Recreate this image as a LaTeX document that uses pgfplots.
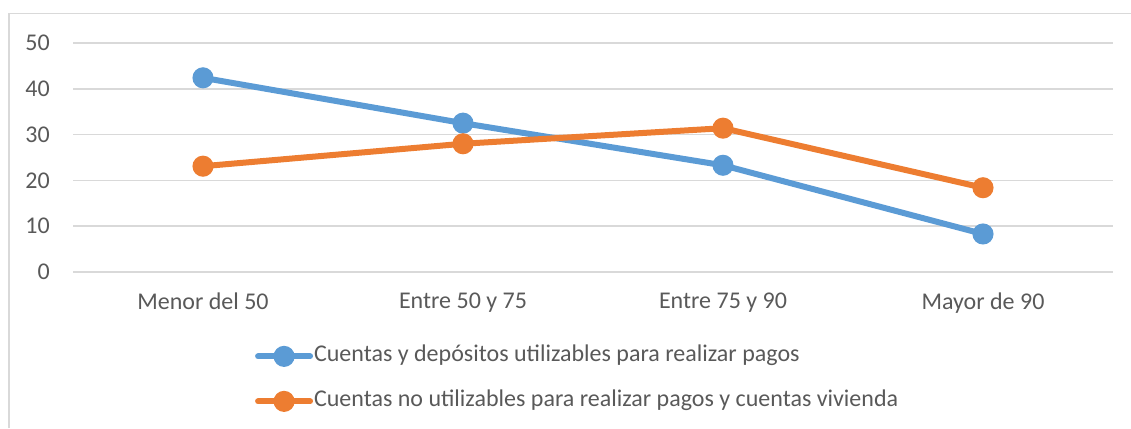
\documentclass[border=0pt]{standalone}
\usepackage{pgfplots}
\pgfplotsset{compat=1.18}
\usepackage{fontspec}
\setmainfont{Carlito}
\definecolor{cblue}{HTML}{5B9BD5}
\definecolor{corange}{HTML}{ED7D31}
\definecolor{cgrid}{HTML}{D9D9D9}
\definecolor{ctext}{HTML}{595959}
\begin{document}
\fontsize{24}{28}\selectfont
\begin{tikzpicture}[x=1pt,y=1pt]
\useasboundingbox (0,0) rectangle (1131,428);
\draw[cgrid, line width=1.5pt] (9,0) -- (9,414.3) -- (1131,414.3);
\begin{axis}[
  at={(73pt,156pt)}, anchor=south west,
  scale only axis, width=1040pt, height=229pt,
  xmin=-0.5, xmax=3.5, ymin=0, ymax=50,
  xtick={0,1,2,3},
  xticklabels={Menor del 50, Entre 50 y 75, Entre 75 y 90, Mayor de 90},
  ytick={0,10,20,30,40,50},
  ymajorgrids, grid style={cgrid, line width=1.5pt},
  axis line style={draw=none},
  major tick length=0pt,
  tick label style={font=\fontsize{24}{28}\selectfont, text=ctext},
  /pgf/number format/assume math mode=true,
  yticklabel style={anchor=east, inner sep=0pt, xshift=-23pt},
  xticklabel style={anchor=north, inner sep=0pt, yshift=-21pt},
  legend cell align=left,
  legend style={draw=none, fill=none, at={(0.172,-0.313)}, anchor=north west,
    font=\fontsize{24}{28}\selectfont, text=ctext,
    nodes={inner sep=0pt, text height=16pt, text depth=5pt},
    row sep=24pt, column sep=1pt},
  legend image code/.code={
    \draw[#1, line width=6pt, line cap=round] (0pt,0pt) -- (52pt,0pt);
    \fill[#1] (26pt,0pt) circle (7.5pt);
  },
  clip=false,
]
\addplot[cblue, line width=6pt, mark=*, mark size=7.5pt, mark options={solid}]
  coordinates {(0,42.4) (1,32.5) (2,23.3) (3,8.3)};
\addlegendentry{Cuentas y depósitos utilizables para realizar pagos}
\addplot[corange, line width=6pt, mark=*, mark size=7.5pt, mark options={solid}]
  coordinates {(0,23.1) (1,28.0) (2,31.4) (3,18.4)};
\addlegendentry{Cuentas no utilizables para realizar pagos y cuentas vivienda}
\end{axis}
\end{tikzpicture}
\end{document}
